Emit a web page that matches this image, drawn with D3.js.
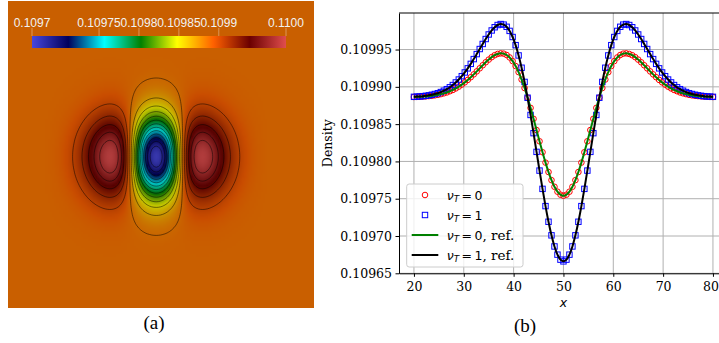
<!DOCTYPE html>
<html>
<head>
<meta charset="utf-8">
<script src="https://cdn.jsdelivr.net/npm/d3@7/dist/d3.min.js"></script>
<style>
  body { margin: 0; background: #fff; }
  svg { display: block; }
  .chart .tick text { font-family: "DejaVu Serif", serif; font-size: 12.5px; fill: #000; }
  .chart .tick line, .chart .domain { stroke: #000; stroke-width: 1; }
</style>
</head>
<body>
<svg id="fig" width="719" height="343"></svg>
<script>
// positions of the samples along y = 50 (plot over line)
const sampleX = [
  20, 20.6, 21.2, 21.8, 22.4, 23, 23.6, 24.2, 24.8, 25.4,
  26, 26.6, 27.2, 27.8, 28.4, 29, 29.6, 30.2, 30.8, 31.4,
  32, 32.6, 33.2, 33.8, 34.4, 35, 35.6, 36.2, 36.8, 37.4,
  38, 38.6, 39.2, 39.8, 40.4, 41, 41.6, 42.2, 42.8, 43.4,
  44, 44.6, 45.2, 45.8, 46.4, 47, 47.6, 48.2, 48.8, 49.4,
  50,
  50.6, 51.2, 51.8, 52.4, 53, 53.6, 54.2, 54.8, 55.4, 56,
  56.6, 57.2, 57.8, 58.4, 59, 59.6, 60.2, 60.8, 61.4, 62,
  62.6, 63.2, 63.8, 64.4, 65, 65.6, 66.2, 66.8, 67.4, 68,
  68.6, 69.2, 69.8, 70.4, 71, 71.6, 72.2, 72.8, 73.4, 74,
  74.6, 75.2, 75.8, 76.4, 77, 77.6, 78.2, 78.8, 79.4, 80
];

// density, nu_T = 0
const densityNu0 = [
  0.1098864, 0.1098865, 0.1098867, 0.1098869, 0.1098872, 0.1098876, 0.1098880, 0.1098886, 0.1098893, 0.1098902,
  0.1098913, 0.1098925, 0.1098941, 0.1098958, 0.1098979, 0.1099003, 0.1099030, 0.1099060, 0.1099093, 0.1099129,
  0.1099167, 0.1099207, 0.1099248, 0.1099289, 0.1099329, 0.1099365, 0.1099398, 0.1099424, 0.1099441, 0.1099449,
  0.1099445, 0.1099427, 0.1099394, 0.1099345, 0.1099279, 0.1099197, 0.1099098, 0.1098984, 0.1098856, 0.1098718,
  0.1098571, 0.1098421, 0.1098270, 0.1098123, 0.1097984, 0.1097858, 0.1097749, 0.1097660, 0.1097594, 0.1097554,
  0.1097540,
  0.1097554, 0.1097594, 0.1097660, 0.1097749, 0.1097858, 0.1097984, 0.1098123, 0.1098270, 0.1098421, 0.1098571,
  0.1098718, 0.1098856, 0.1098984, 0.1099098, 0.1099197, 0.1099279, 0.1099345, 0.1099394, 0.1099427, 0.1099445,
  0.1099449, 0.1099441, 0.1099424, 0.1099398, 0.1099365, 0.1099329, 0.1099289, 0.1099248, 0.1099207, 0.1099167,
  0.1099129, 0.1099093, 0.1099060, 0.1099030, 0.1099003, 0.1098979, 0.1098958, 0.1098941, 0.1098925, 0.1098913,
  0.1098902, 0.1098893, 0.1098886, 0.1098880, 0.1098876, 0.1098872, 0.1098869, 0.1098867, 0.1098865, 0.1098864
];

// density, nu_T = 1
const densityNu1 = [
  0.1098866, 0.1098869, 0.1098871, 0.1098875, 0.1098880, 0.1098886, 0.1098894, 0.1098904, 0.1098915, 0.1098930,
  0.1098948, 0.1098969, 0.1098994, 0.1099024, 0.1099059, 0.1099098, 0.1099143, 0.1099193, 0.1099248, 0.1099308,
  0.1099372, 0.1099439, 0.1099507, 0.1099575, 0.1099641, 0.1099702, 0.1099756, 0.1099799, 0.1099829, 0.1099842,
  0.1099834, 0.1099805, 0.1099750, 0.1099668, 0.1099559, 0.1099421, 0.1099256, 0.1099066, 0.1098854, 0.1098623,
  0.1098379, 0.1098128, 0.1097877, 0.1097632, 0.1097401, 0.1097191, 0.1097009, 0.1096860, 0.1096750, 0.1096683,
  0.1096660,
  0.1096683, 0.1096750, 0.1096860, 0.1097009, 0.1097191, 0.1097401, 0.1097632, 0.1097877, 0.1098128, 0.1098379,
  0.1098623, 0.1098854, 0.1099066, 0.1099256, 0.1099421, 0.1099559, 0.1099668, 0.1099750, 0.1099805, 0.1099834,
  0.1099842, 0.1099829, 0.1099799, 0.1099756, 0.1099702, 0.1099641, 0.1099575, 0.1099507, 0.1099439, 0.1099372,
  0.1099308, 0.1099248, 0.1099193, 0.1099143, 0.1099098, 0.1099059, 0.1099024, 0.1098994, 0.1098969, 0.1098948,
  0.1098930, 0.1098915, 0.1098904, 0.1098894, 0.1098886, 0.1098880, 0.1098875, 0.1098871, 0.1098869, 0.1098866
];

// vertical decay of the perturbation across the vortex (same sample rows, y = 20..80)
const profileY = [
  0.00018, 0.00025, 0.00035, 0.00048, 0.00067, 0.00091, 0.00124, 0.00168, 0.00225, 0.00300,
  0.00397, 0.00521, 0.00680, 0.00882, 0.01135, 0.01450, 0.01841, 0.02320, 0.02905, 0.03611,
  0.04459, 0.05467, 0.06658, 0.08051, 0.09670, 0.11533, 0.13661, 0.16071, 0.18775, 0.21783,
  0.25099, 0.28720, 0.32637, 0.36834, 0.41284, 0.45952, 0.50796, 0.55764, 0.60796, 0.65826,
  0.70780, 0.75584, 0.80158, 0.84422, 0.88302, 0.91723, 0.94621, 0.96938, 0.98627, 0.99655,
  1,
  0.99655, 0.98627, 0.96938, 0.94621, 0.91723, 0.88302, 0.84422, 0.80158, 0.75584, 0.70780,
  0.65826, 0.60796, 0.55764, 0.50796, 0.45952, 0.41284, 0.36834, 0.32637, 0.28720, 0.25099,
  0.21783, 0.18775, 0.16071, 0.13661, 0.11533, 0.09670, 0.08051, 0.06658, 0.05467, 0.04459,
  0.03611, 0.02905, 0.02320, 0.01841, 0.01450, 0.01135, 0.00882, 0.00680, 0.00521, 0.00397,
  0.00300, 0.00225, 0.00168, 0.00124, 0.00091, 0.00067, 0.00048, 0.00035, 0.00025, 0.00018
];
const ambientDensity = 0.1098866;

const xTicks = [20, 30, 40, 50, 60, 70, 80];
const yTicks = [0.10965, 0.10970, 0.10975, 0.10980, 0.10985, 0.10990, 0.10995];
const barTicks = [0.10975, 0.1098, 0.10985, 0.1099];
const barTickLabels = ['0.10975', '0.1098', '0.10985', '0.1099'];
const barEndLabels = ['0.1097', '0.1100'];
const contourCount = 20;

// paraview "Rainbow Desaturated"
const rainbowStops = [0, 0.143, 0.285, 0.429, 0.571, 0.714, 0.857, 1];
const rainbowColors = ['#4747db', '#00005c', '#00ffff', '#008000', '#ffff00', '#ff6100', '#6b0000', '#e04d4d'];
const shade = 0.79; // surface lighting in the render

const svg = d3.select('#fig');

// ---------------- (a) density field ----------------
const nCol = sampleX.length, nRow = profileY.length;
const field = [];
for (let r = 0; r < nRow; r++) {            // row 0 = top of the picture
  const q = profileY[nRow - 1 - r];
  for (let c = 0; c < nCol; c++) {
    field.push(ambientDensity + (densityNu1[c] - ambientDensity) * q);
  }
}
const fMin = d3.min(field), fMax = d3.max(field);

const color = d3.scaleLinear()
  .domain(rainbowStops.map(t => fMin + t * (fMax - fMin)))
  .range(rainbowColors)
  .interpolate(d3.interpolateRgb)
  .clamp(true);
const shaded = v => {
  const c = d3.rgb(color(v));
  return d3.rgb(c.r * shade, c.g * shade, c.b * shade);
};

const box = {x0: 8, x1: 314, y0: 1, y1: 308};
const imgX = d3.scaleLinear().domain([9.95, 92.65]).range([box.x0, box.x1]);
const imgY = d3.scaleLinear().domain([9.11, 92.08]).range([box.y1, box.y0]);
const gridX = d3.scaleLinear().domain([0.5, nCol - 0.5]).range([sampleX[0], sampleX[nCol - 1]]);
const gridY = d3.scaleLinear().domain([0.5, nRow - 0.5]).range([80, 20]);
const half = (sampleX[1] - sampleX[0]) / 2;

const panelA = svg.append('g');
panelA.append('clipPath').attr('id', 'clipA')
  .append('rect').attr('x', box.x0).attr('y', box.y0)
  .attr('width', box.x1 - box.x0).attr('height', box.y1 - box.y0);
const imgG = panelA.append('g').attr('clip-path', 'url(#clipA)');

imgG.append('rect')
  .attr('x', box.x0).attr('y', box.y0)
  .attr('width', box.x1 - box.x0).attr('height', box.y1 - box.y0)
  .attr('fill', shaded(ambientDensity));

const canvas = document.createElement('canvas');
canvas.width = nCol; canvas.height = nRow;
const ctx = canvas.getContext('2d');
const im = ctx.createImageData(nCol, nRow);
field.forEach((v, i) => {
  const c = shaded(v);
  im.data[i * 4] = c.r; im.data[i * 4 + 1] = c.g; im.data[i * 4 + 2] = c.b; im.data[i * 4 + 3] = 255;
});
ctx.putImageData(im, 0, 0);

imgG.append('image')
  .attr('href', canvas.toDataURL())
  .attr('preserveAspectRatio', 'none')
  .attr('x', imgX(sampleX[0] - half))
  .attr('y', imgY(80 + half))
  .attr('width', imgX(sampleX[nCol - 1] + half) - imgX(sampleX[0] - half))
  .attr('height', imgY(20 - half) - imgY(80 + half));

// contour lines, 20 levels between min and max
const levels = d3.range(1, contourCount - 1).map(k => fMin + k * (fMax - fMin) / (contourCount - 1));
const toPx = d3.geoTransform({
  point(x, y) { this.stream.point(imgX(gridX(x)), imgY(gridY(y))); }
});
const contourPath = d3.geoPath(toPx);
const lowLevels = levels.filter(v => v < ambientDensity);
const highLevels = levels.filter(v => v > ambientDensity);
const lowC = d3.contours().size([nCol, nRow]).thresholds(lowLevels.map(v => -v))(field.map(v => -v));
const highC = d3.contours().size([nCol, nRow]).thresholds(highLevels)(field);

imgG.append('g')
  .selectAll('path')
  .data(lowC.concat(highC))
  .join('path')
  .attr('d', contourPath)
  .attr('fill', 'none')
  .attr('stroke', '#000')
  .attr('stroke-opacity', 0.6)
  .attr('stroke-width', 0.8);

// colour bar
const bar = {x0: 32, x1: 286, y0: 36, y1: 48};
const barX = d3.scaleLinear().domain([fMin, fMax]).range([bar.x0, bar.x1]);
const grad = svg.append('defs').append('linearGradient').attr('id', 'rainbow');
grad.selectAll('stop')
  .data(rainbowStops)
  .join('stop')
  .attr('offset', d => d)
  .attr('stop-color', (d, i) => rainbowColors[i]);
panelA.append('rect')
  .attr('x', bar.x0).attr('y', bar.y0)
  .attr('width', bar.x1 - bar.x0).attr('height', bar.y1 - bar.y0)
  .attr('fill', 'url(#rainbow)');

const barMarks = [fMin].concat(barTicks, [fMax]);
const barLabels = [barEndLabels[0]].concat(barTickLabels, [barEndLabels[1]]);
panelA.append('g')
  .selectAll('line')
  .data(barMarks)
  .join('line')
  .attr('x1', d => barX(d)).attr('x2', d => barX(d))
  .attr('y1', 28).attr('y2', bar.y0)
  .attr('stroke', '#fff').attr('stroke-opacity', 0.35).attr('stroke-width', 1);
panelA.append('g')
  .selectAll('text')
  .data(barMarks)
  .join('text')
  .attr('x', d => barX(d))
  .attr('y', 26.5)
  .attr('text-anchor', 'middle')
  .attr('font-family', '"Liberation Sans", Arial, sans-serif')
  .attr('font-size', 12)
  .attr('fill', '#f2f2f2')
  .text((d, i) => barLabels[i]);

// ---------------- (b) centre-line profile ----------------
const xScale = d3.scaleLinear().domain([17, 83]).range([399, 727.9]);
const yScale = d3.scaleLinear().domain([0.10965, 0.109999]).range([273.3, 13]);
const chart = svg.append('g').attr('class', 'chart');
const [xl, xr] = xScale.range();
const [yb, yt] = yScale.range();

chart.append('g')
  .selectAll('line')
  .data(xTicks)
  .join('line')
  .attr('x1', d => xScale(d)).attr('x2', d => xScale(d))
  .attr('y1', yb).attr('y2', yt)
  .attr('stroke', '#b0b0b0').attr('stroke-width', 1);
chart.append('g')
  .selectAll('line')
  .data(yTicks)
  .join('line')
  .attr('x1', xl).attr('x2', xr)
  .attr('y1', d => yScale(d)).attr('y2', d => yScale(d))
  .attr('stroke', '#b0b0b0').attr('stroke-width', 1);

const pts0 = sampleX.map((x, i) => [x, densityNu0[i]]);
const pts1 = sampleX.map((x, i) => [x, densityNu1[i]]);

chart.append('g')
  .selectAll('circle')
  .data(pts0)
  .join('circle')
  .attr('cx', d => xScale(d[0])).attr('cy', d => yScale(d[1]))
  .attr('r', 2.8)
  .attr('fill', 'none').attr('stroke', '#ff0000').attr('stroke-width', 1);

chart.append('g')
  .selectAll('rect')
  .data(pts1)
  .join('rect')
  .attr('x', d => xScale(d[0]) - 2.7).attr('y', d => yScale(d[1]) - 2.7)
  .attr('width', 5.4).attr('height', 5.4)
  .attr('fill', 'none').attr('stroke', '#0000ff').attr('stroke-width', 1);

const line = d3.line()
  .x(d => xScale(d[0]))
  .y(d => yScale(d[1]))
  .curve(d3.curveCatmullRom);
chart.append('path').datum(pts0).attr('d', line)
  .attr('fill', 'none').attr('stroke', '#008000').attr('stroke-width', 2);
chart.append('path').datum(pts1).attr('d', line)
  .attr('fill', 'none').attr('stroke', '#000').attr('stroke-width', 2);

// spines + axes
chart.append('line').attr('x1', xl).attr('x2', xr).attr('y1', yt).attr('y2', yt)
  .attr('stroke', '#000').attr('stroke-width', 1);
chart.append('line').attr('x1', xr).attr('x2', xr).attr('y1', yt).attr('y2', yb)
  .attr('stroke', '#000').attr('stroke-width', 1);

const xAxisG = chart.append('g')
  .attr('transform', `translate(0,${yb})`)
  .call(d3.axisBottom(xScale).tickValues(xTicks).tickSize(3.5).tickSizeOuter(0)
    .tickPadding(5).tickFormat(d3.format('d')));
// the last label sits on the page edge; keep it inside
xAxisG.selectAll('.tick text').filter(d => xScale(d) + 8 > +svg.attr('width'))
  .attr('text-anchor', 'end').attr('x', +svg.attr('width') - 0.5 - xScale(xTicks[xTicks.length - 1]));
chart.append('g')
  .attr('transform', `translate(${xl},0)`)
  .call(d3.axisLeft(yScale).tickValues(yTicks).tickSize(3.5).tickSizeOuter(0)
    .tickPadding(3.5).tickFormat(d3.format('.5f')));

chart.append('text')
  .attr('x', (xl + xr) / 2).attr('y', 307)
  .attr('text-anchor', 'middle')
  .attr('font-family', '"DejaVu Sans", sans-serif')
  .attr('font-style', 'italic')
  .attr('font-size', 12.5)
  .text('x');
chart.append('text')
  .attr('transform', `translate(331.5,${(yb + yt) / 2}) rotate(-90)`)
  .attr('text-anchor', 'middle')
  .attr('font-family', '"DejaVu Serif", serif')
  .attr('font-size', 12.5)
  .text('Density');

// legend
const legendItems = [
  {kind: 'circle', stroke: '#ff0000', value: '0', suffix: ''},
  {kind: 'square', stroke: '#0000ff', value: '1', suffix: ''},
  {kind: 'line', stroke: '#008000', value: '0', suffix: ', ref.'},
  {kind: 'line', stroke: '#000', value: '1', suffix: ', ref.'}
];
const leg = chart.append('g');
leg.append('rect')
  .attr('x', 406.7).attr('y', 184).attr('width', 116.3).attr('height', 83)
  .attr('rx', 2.5)
  .attr('fill', '#fff').attr('fill-opacity', 0.8)
  .attr('stroke', '#cccccc').attr('stroke-width', 1);
legendItems.forEach((it, i) => {
  const cy = 195 + i * 20;
  if (it.kind === 'circle') {
    leg.append('circle').attr('cx', 425).attr('cy', cy).attr('r', 2.8)
      .attr('fill', 'none').attr('stroke', it.stroke).attr('stroke-width', 1);
  } else if (it.kind === 'square') {
    leg.append('rect').attr('x', 425 - 2.7).attr('y', cy - 2.7).attr('width', 5.4).attr('height', 5.4)
      .attr('fill', 'none').attr('stroke', it.stroke).attr('stroke-width', 1);
  } else {
    leg.append('line').attr('x1', 411.7).attr('x2', 438.3).attr('y1', cy).attr('y2', cy)
      .attr('stroke', it.stroke).attr('stroke-width', 2);
  }
  const t = leg.append('text').attr('x', 446.7).attr('y', cy + 4.5).attr('font-size', 12.5);
  t.append('tspan').attr('font-family', '"DejaVu Sans", sans-serif').attr('font-style', 'italic').text('\u03bd');
  t.append('tspan').attr('font-family', '"DejaVu Sans", sans-serif').attr('font-style', 'italic')
    .attr('font-size', 8.8).attr('dy', 2).text('T');
  t.append('tspan').attr('font-family', '"DejaVu Sans", sans-serif').attr('dy', -2)
    .text('\u2009=\u2009' + it.value);
  if (it.suffix) {
    t.append('tspan').attr('font-family', '"DejaVu Serif", serif').attr('font-size', 13.5).text(it.suffix);
  }
});

// sub-figure captions
const captions = [{x: 154, y: 329, text: '(a)'}, {x: 525, y: 332, text: '(b)'}];
svg.append('g')
  .selectAll('text')
  .data(captions)
  .join('text')
  .attr('x', d => d.x).attr('y', d => d.y)
  .attr('text-anchor', 'middle')
  .attr('font-family', '"Liberation Serif", "Times New Roman", serif')
  .attr('font-size', 19)
  .text(d => d.text);
</script>
</body>
</html>
